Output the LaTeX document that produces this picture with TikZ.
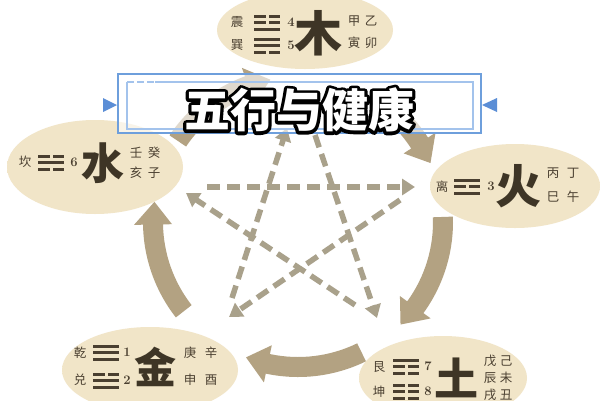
\documentclass[tikz,border=0pt]{standalone}
\usepackage{fontspec}
\newfontfamily\cjk{Noto Sans CJK SC}
\newfontfamily\cjkout{Noto Sans CJK SC}[BoldFeatures={FakeBold=14}]
\usetikzlibrary{arrows.meta,shapes.geometric,calc}
\definecolor{bandc}{HTML}{B3A282}
\definecolor{dashc}{HTML}{A9A18B}
\definecolor{ellc}{HTML}{F1E5C8}
\definecolor{elle}{HTML}{F9F3E6}
\definecolor{txtc}{HTML}{4A3F30}
\definecolor{bigc}{HTML}{3E3526}
\definecolor{boxc}{HTML}{6E9FDC}
\definecolor{boxi}{HTML}{A3C3EC}
\definecolor{tric}{HTML}{5B8ED6}
\pgfdeclareradialshading{ellshade}{\pgfpoint{0bp}{0bp}}{color(0bp)=(ellc); color(30bp)=(ellc); color(50bp)=(elle)}
\newcommand\cyclearrow[2]{%
  \pgfmathsetmacro\hb{#2+9}%
  \fill[bandc] (#1:155) arc[start angle=#1, end angle=\hb, radius=155]
    -- (\hb:164) -- (#2:145) -- (\hb:126) -- (\hb:135)
    arc[start angle=\hb, end angle=#1, radius=135] -- cycle;}
% trigram: #1 x-left, #2 y-centre, #3 #4 #5 = 1 solid / 0 broken (top to bottom)
\newcommand\gua[5]{%
  \foreach \k/\s in {0/#3,1/#4,2/#5}{%
    \ifnum\s=1
      \fill[txtc] (#1,#2-7.5+\k*6.5) rectangle ++(26,3.4);
    \else
      \fill[txtc] (#1,#2-7.5+\k*6.5) rectangle ++(11.5,3.4);
      \fill[txtc] (#1+14.5,#2-7.5+\k*6.5) rectangle ++(11.5,3.4);
    \fi}}
\begin{document}
\begin{tikzpicture}[x=1pt,y=-1pt,
  ellnode/.style={ellipse, shading=ellshade, inner sep=0pt},
  small/.style={text=txtc, font=\cjk\fontsize{12.5}{12.5}\selectfont, inner sep=0pt},
  num/.style={text=txtc, font=\bfseries\fontsize{13}{13}\selectfont, inner sep=0pt},
  big/.style={text=bigc, inner sep=0pt},
  dasharrow/.style={draw=dashc, line width=5.5pt, dash pattern=on 13pt off 7pt,
    -{Triangle[width=16pt,length=13pt]}}]
\useasboundingbox (0,0) rectangle (600,400);
\fill[white] (0,0) rectangle (600,400);

% cycle arrows
\begin{scope}[shift={(298,222)}, yscale=-1]
  \cyclearrow{146}{101}
  \cyclearrow{58}{24}
  \cyclearrow{2}{-45}
  \cyclearrow{-64}{-111}
  \cyclearrow{-142}{-188}
\end{scope}

% ellipses
\node[ellnode, minimum width=176pt, minimum height=78pt] (mu) at (305,30) {};
\node[ellnode, minimum width=176pt, minimum height=94pt] (shui) at (95,167) {};
\node[ellnode, minimum width=170pt, minimum height=84pt] (huo) at (515,186) {};
\node[ellnode, minimum width=176pt, minimum height=86pt] (jin) at (150,370) {};
\node[ellnode, minimum width=168pt, minimum height=84pt] (tu) at (443,378) {};

% pentagram
\coordinate (a1) at (207,187); \coordinate (b1) at (415,187);
\coordinate (a2) at (400,200); \coordinate (b2) at (229,317);
\coordinate (a3) at (232,298); \coordinate (b3) at (287,128);
\coordinate (a4) at (315,135); \coordinate (b4) at (377,318);
\coordinate (a5) at (355,305); \coordinate (b5) at (186,193);
\draw[dasharrow] (a1) -- (b1);
\draw[dasharrow] (a2) -- (b2);
\draw[dasharrow] (a3) -- (b3);
\draw[dasharrow] (a4) -- (b4);
\draw[dasharrow] (a5) -- (b5);

% wood
\node[small] (zhen) at (237,22) {震};
\gua{254}{22}{0}{0}{1}
\node[num] (n4) at (291,22) {4};
\node[small] (xun) at (237,45) {巽};
\gua{254}{45}{1}{1}{0}
\node[num] (n5) at (291,45) {5};
\node[big, font=\cjk\bfseries\fontsize{48}{48}\selectfont] (wood) at (318,33) {木};
\node[small] (jia) at (354,21) {甲};
\node[small] (yi) at (371,21) {乙};
\node[small] (yin) at (354,43) {寅};
\node[small] (mao) at (371,43) {卯};

% water
\node[small] (kan) at (25,162) {坎};
\gua{38}{162}{0}{1}{0}
\node[num] (n6) at (74,162) {6};
\node[big, font=\cjk\bfseries\fontsize{43}{43}\selectfont] (water) at (103,163) {水};
\node[small] (ren) at (136,153) {壬};
\node[small] (gui) at (154,153) {癸};
\node[small] (hai) at (136,173) {亥};
\node[small] (zi) at (154,173) {子};

% fire
\node[small] (li) at (442,187) {离};
\gua{454}{186}{1}{0}{1}
\node[num] (n3) at (491,186) {3};
\node[big, font=\cjk\bfseries\fontsize{46}{46}\selectfont] (fire) at (518,186) {火};
\node[small] (bing) at (553,173) {丙};
\node[small] (ding) at (573,173) {丁};
\node[small] (si) at (553,197) {巳};
\node[small] (wu) at (573,197) {午};

% metal
\node[small] (qian) at (80,353) {乾};
\gua{93}{352}{1}{1}{1}
\node[num] (n1) at (127,352) {1};
\node[small] (dui) at (80,380) {兑};
\gua{93}{380}{0}{1}{1}
\node[num] (n2) at (127,380) {2};
\node[big, font=\cjk\bfseries\fontsize{42}{42}\selectfont] (metal) at (155,367) {金};
\node[small] (geng) at (190,353) {庚};
\node[small] (xin) at (211,353) {辛};
\node[small] (shen) at (190,380) {申};
\node[small] (you) at (211,380) {酉};

% earth
\node[small] (gen) at (379,367) {艮};
\gua{393}{366}{1}{0}{0}
\node[num] (n7) at (428,366) {7};
\node[small] (kun) at (379,392) {坤};
\gua{393}{391}{0}{0}{0}
\node[num] (n8) at (428,391) {8};
\node[big, font=\cjk\bfseries\fontsize{44}{44}\selectfont] (earth) at (456,378) {土};
\node[small] (wuu) at (490,361) {戊};
\node[small] (ji) at (506,361) {己};
\node[small] (chen) at (490,378) {辰};
\node[small] (wei) at (506,378) {未};
\node[small] (xu) at (490,395) {戌};
\node[small] (chou) at (506,395) {丑};

% title box
\fill[white, fill opacity=0.6] (118,74) rectangle (481,133);
\draw[boxc, line width=1.6pt] (118,74) rectangle (481,133);
\draw[boxi, line width=1.2pt] (155,82) -- (473,82) -- (473,129) -- (440,129);
\draw[boxi, line width=1.2pt] (440,129) -- (127,129) -- (127,82);
\draw[boxi, line width=1.2pt, dash pattern=on 7pt off 3pt] (127,82) -- (155,82);
\draw[boxi, line width=1.2pt, dash pattern=on 7pt off 3pt] (473,129) -- (440,129);
\fill[tric] (103,98) -- (117,105) -- (103,112) -- cycle;
\fill[tric] (497,98) -- (482,105) -- (497,112) -- cycle;
\node[text=black, line join=round, font=\cjkout\bfseries\fontsize{46}{46}\selectfont, inner sep=0pt] (titleback) at (299,110) {五行与健康};
\node[text=white, font=\cjk\bfseries\fontsize{46}{46}\selectfont, inner sep=0pt] (title) at (299,110) {五行与健康};
\end{tikzpicture}
\end{document}
